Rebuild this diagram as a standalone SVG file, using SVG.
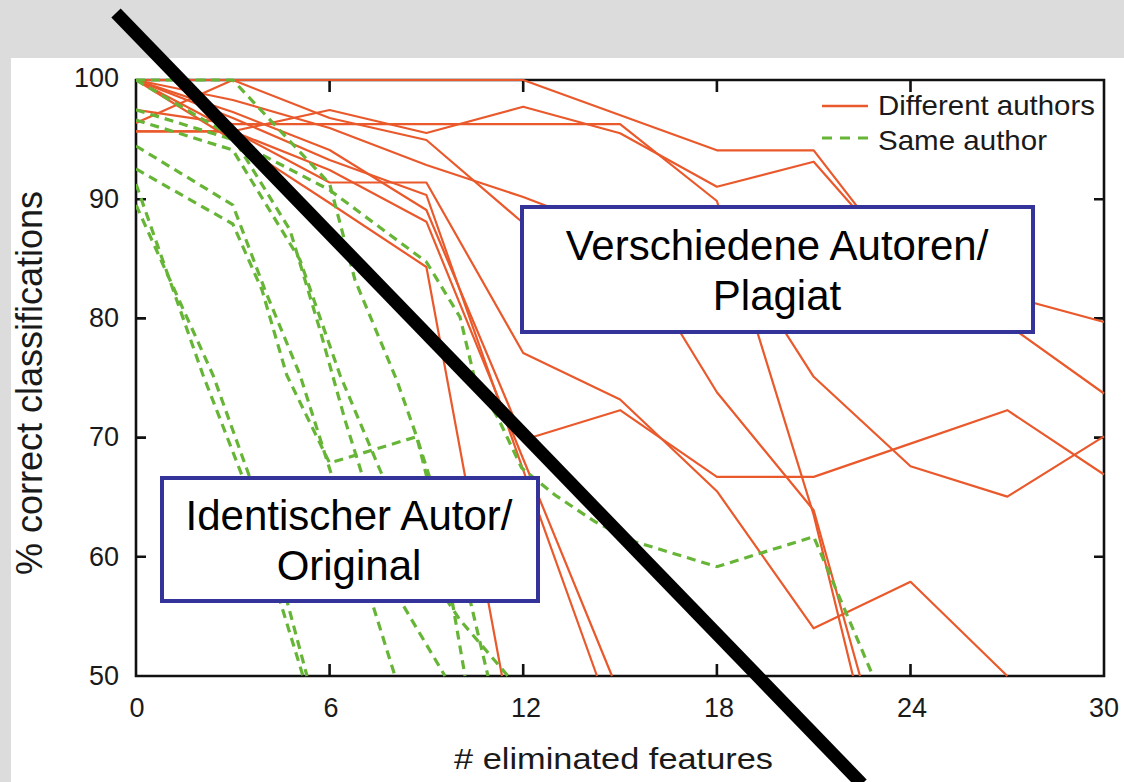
<svg xmlns="http://www.w3.org/2000/svg" width="1124" height="782" viewBox="0 0 1124 782">
<style>
.bg{fill:#dcdcdc}
.frame{fill:none;stroke:#111;stroke-width:2.6}
.tick{stroke:#111;stroke-width:2.6}
.tl{font-family:"Liberation Sans",Arial,sans-serif;font-size:27px;fill:#1a1a1a}
.ax{font-family:"Liberation Sans",Arial,sans-serif;fill:#1a1a1a}
.diff{fill:none;stroke:#e9592b;stroke-width:2.2;stroke-linejoin:round}
.same{fill:none;stroke:#66b536;stroke-width:3.2;stroke-dasharray:9 6}
.box{fill:#fff;stroke:#333399;stroke-width:4}
.bt{font-family:"Liberation Sans",Arial,sans-serif;font-size:42px;fill:#000;text-anchor:middle}
</style>
<defs>
<clipPath id="plot"><rect x="136" y="74" width="970" height="603"/></clipPath>
</defs>
<rect class="bg" x="0" y="0" width="1124" height="782"/>
<rect x="11" y="58" width="1113" height="724" fill="#fff"/>

<g id="axes">
<path class="frame" d="M136,80 H1104 V676 H136 Z"/>
<path class="tick" d="M136,199.2 h10 M136,318.4 h10 M136,437.6 h10 M136,556.8 h10 M1104,199.2 h-10 M1104,318.4 h-10 M1104,437.6 h-10 M1104,556.8 h-10 M329.6,676 v-12 M523.2,676 v-12 M716.9,676 v-12 M910.5,676 v-12 M329.6,80 v12 M523.2,80 v12 M716.9,80 v12 M910.5,80 v12"/>
<g class="tl" text-anchor="end">
<text x="119" y="87">100</text>
<text x="119" y="208">90</text>
<text x="119" y="327">80</text>
<text x="119" y="446">70</text>
<text x="119" y="566">60</text>
<text x="119" y="685">50</text>
</g>
<g class="tl" text-anchor="middle">
<text x="137" y="717">0</text>
<text x="331" y="717">6</text>
<text x="526" y="717">12</text>
<text x="719" y="717">18</text>
<text x="912" y="717">24</text>
<text x="1104" y="717">30</text>
</g>
<text class="ax" x="454" y="769" font-size="30" textLength="319" lengthAdjust="spacingAndGlyphs">&#35; eliminated features</text>
<text class="ax" font-size="36" text-anchor="middle" transform="translate(42,383) rotate(-90)">% correct classifications</text>
</g>

<g id="connectors" clip-path="url(#plot)">
<polyline class="diff" points="136,80 523.2,80 716.9,150.3 813.7,150.3 910.5,275.5 1007.3,295.8 1104,322"/>
<polyline class="diff" points="136,131.3 232.8,131.3 329.6,110 426.4,133 523.2,106.7 620.1,133.3 716.9,186.7 813.7,161.7 910.5,272 1007.3,324.4 1104,393.5"/>
<polyline class="diff" points="136,109.8 232.8,124.1 620.1,124.1 716.9,201 813.7,515 853,676"/>
<polyline class="diff" points="136,80 232.8,100 329.6,128 426.4,165 523.2,197 620.1,234 716.9,392.3 813.7,510.3 860,676"/>
<polyline class="diff" points="136,123 232.8,80 329.6,118 426.4,140 523.2,223 620.1,232 716.9,225.4 813.7,376.8 910.5,466.2 1007.3,496.6 1104,436.4"/>
<polyline class="diff" points="136,80 232.8,112 329.6,150 426.4,210 523.2,440 620.1,410.2 716.9,476.9 813.7,476.9 910.5,443.6 1007.3,410.2 1104,474.5"/>
<polyline class="diff" points="136,80 232.8,131 329.6,182.5 426.4,182.5 523.2,353 620.1,399.5 716.9,491.2 813.7,628.3 910.5,581.8 1007.3,676"/>
<polyline class="diff" points="136,80 232.8,118 329.6,160 426.4,195 523.2,470 597,676"/>
<polyline class="diff" points="136,131.3 232.8,131.3 329.6,170 426.4,221.7 523.2,459 612,676"/>
<polyline class="diff" points="136,80 232.8,140 329.6,203 426.4,267 502,676"/>

<polyline class="same" points="136,109.8 232.8,139.6 329.6,190 426.4,262 460,317 475,380 498,418 521.7,468 555,495 595,521.7 635,541.7 716.9,566.7 813.7,536.7 873,676"/>
<polyline class="same" points="136,80 232.8,80 329.6,183.7 355,280 396.7,380 416.7,436.7 440,530 465,676"/>
<polyline class="same" points="136,80 232.8,137 290,230 320,330 345,420 370,500 400,600 445,676"/>
<polyline class="same" points="136,146 232.8,205 265,290 300,375 330,470 365,580 395,676"/>
<polyline class="same" points="136,169 232.8,224 262,290 286.7,375 329.6,463 416.7,436.7 440,510 470,600 488,676"/>
<polyline class="same" points="136,184 203,375 243,478 280,601 303,676"/>
<polyline class="same" points="136,205 213,375 250,478 287,601 307,676"/>
<polyline class="same" points="136,120 232.8,150 300,260 340,375 380,470 420,560 460,620 508,676"/>
</g>

<g id="legend">
<line x1="822" y1="106" x2="868" y2="106" stroke="#e9592b" stroke-width="2.4"/>
<line x1="822" y1="138" x2="868" y2="138" stroke="#66b536" stroke-width="3.2" stroke-dasharray="10 8"/>
<text class="ax" x="878" y="115" font-size="28" textLength="217" lengthAdjust="spacingAndGlyphs">Different authors</text>
<text class="ax" x="878" y="150" font-size="28" textLength="169" lengthAdjust="spacingAndGlyphs">Same author</text>
</g>

<g id="box-plagiat">
<rect class="box" x="522" y="207" width="511" height="125"/>
<text class="bt" x="777" y="260">Verschiedene Autoren/</text>
<text class="bt" x="777" y="310">Plagiat</text>
</g>

<g id="box-original">
<rect class="box" x="162" y="478" width="376" height="123"/>
<text class="bt" x="349" y="530">Identischer Autor/</text>
<text class="bt" x="349" y="580">Original</text>
</g>

<g id="divider">
<line x1="116" y1="13" x2="862" y2="784" stroke="#000" stroke-width="13"/>
</g>
</svg>
